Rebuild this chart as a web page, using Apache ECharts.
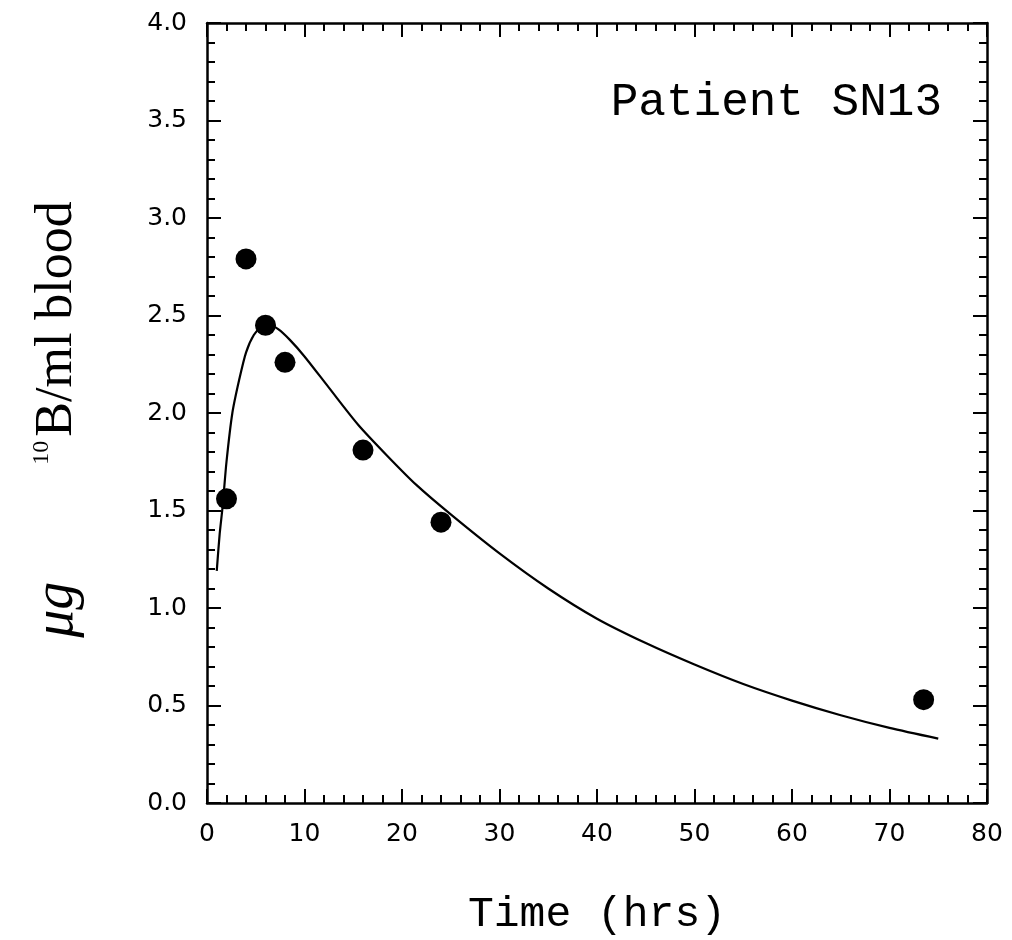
<!DOCTYPE html>
<html><head><meta charset="utf-8">
<script src="https://cdn.jsdelivr.net/npm/echarts@6/dist/echarts.min.js"></script>
<style>html,body{margin:0;padding:0;background:#fff}#c{width:1012px;height:940px}</style>
</head><body><div id="c"></div>
<script>
// measured blood boron concentrations
const measuredTime = [2, 4, 6, 8, 16, 24, 73.5];
const measuredBoron = [1.56, 2.79, 2.45, 2.26, 1.81, 1.44, 0.53];
// fitted pharmacokinetic curve
const fitTime = [1.0, 1.3, 1.6, 2.0, 2.6, 3.3, 4.0, 4.8, 5.6, 6.4, 7.3, 8.5, 10, 12.5, 15.5, 18.5, 21.5, 25, 30, 35, 40, 45, 50, 55, 60, 65, 70, 75];
const fitBoron = [1.19, 1.38, 1.52, 1.75, 2.0, 2.17, 2.31, 2.40, 2.44, 2.45, 2.43, 2.375, 2.29, 2.13, 1.94, 1.78, 1.63, 1.48, 1.28, 1.10, 0.945, 0.82, 0.71, 0.61, 0.525, 0.45, 0.385, 0.33];
const xRange = [0, 80];
const yRange = [0, 4];
const panelLabel = 'Patient SN13';
const xTitle = 'Time (hrs)';

const chart = echarts.init(document.getElementById('c'), null, {renderer: 'canvas'});
const lineStyle = {color: '#000', width: 2.5};
function axisBase(isX, show) {
  return {
    type: 'value',
    min: isX ? xRange[0] : yRange[0],
    max: isX ? xRange[1] : yRange[1],
    interval: isX ? 10 : 0.5,
    axisLine: {show: true, onZero: false, lineStyle: lineStyle},
    axisTick: {show: true, inside: true, length: 14, lineStyle: {color: '#000', width: 2}},
    minorTick: {show: true, splitNumber: 5, length: 8, lineStyle: {color: '#000', width: 2}},
    splitLine: {show: false},
    minorSplitLine: {show: false},
    axisLabel: show ? {
      show: true, margin: 19, color: '#000', fontFamily: 'DejaVu Sans', fontSize: 25,
      formatter: isX ? (v => String(v)) : (v => v.toFixed(1))
    } : {show: false}
  };
}
const xMain = axisBase(true, true);
xMain.position = 'bottom';
xMain.name = xTitle;
xMain.nameLocation = 'middle';
xMain.nameGap = 90;
xMain.nameTextStyle = {color: '#000', fontFamily: 'Liberation Mono', fontSize: 43};
const xTop = axisBase(true, false); xTop.position = 'top';
const yMain = axisBase(false, true);
yMain.position = 'left';
yMain.axisLabel.margin = 20;
yMain.name = '{mu|μg}         {sup|10}{t|B/ml blood} ';
yMain.nameLocation = 'middle';
yMain.nameGap = 122;
yMain.nameTextStyle = {
  color: '#000', fontFamily: 'Liberation Serif', fontSize: 52,
  rich: {
    mu: {fontFamily: 'Liberation Serif', fontStyle: 'italic', fontSize: 56, color: '#000'},
    sup: {fontFamily: 'Liberation Serif', fontSize: 24, color: '#000', padding: [0, 4, 30, 0]},
    t: {fontFamily: 'Liberation Serif', fontSize: 52, color: '#000'}
  }
};
const yRight = axisBase(false, false); yRight.position = 'right';

chart.setOption({
  animation: false,
  backgroundColor: '#fff',
  grid: {left: 207, right: 25, top: 23, bottom: 137, containLabel: false, outerBoundsMode: 'none'},
  xAxis: [xMain, xTop],
  yAxis: [yMain, yRight],
  graphic: [{
    type: 'text', right: 70, top: 80,
    style: {text: panelLabel, fill: '#000', font: '46px "Liberation Mono"'}
  }],
  series: [
    {
      type: 'line', xAxisIndex: 0, yAxisIndex: 0,
      data: fitTime.map((t, i) => [t, fitBoron[i]]),
      smooth: 0.25, showSymbol: false, lineStyle: {color: '#000', width: 2.2}
    },
    {
      type: 'scatter', xAxisIndex: 0, yAxisIndex: 0,
      data: measuredTime.map((t, i) => [t, measuredBoron[i]]),
      symbol: 'circle', symbolSize: 21, itemStyle: {color: '#000', opacity: 1}
    }
  ]
});
</script></body></html>
